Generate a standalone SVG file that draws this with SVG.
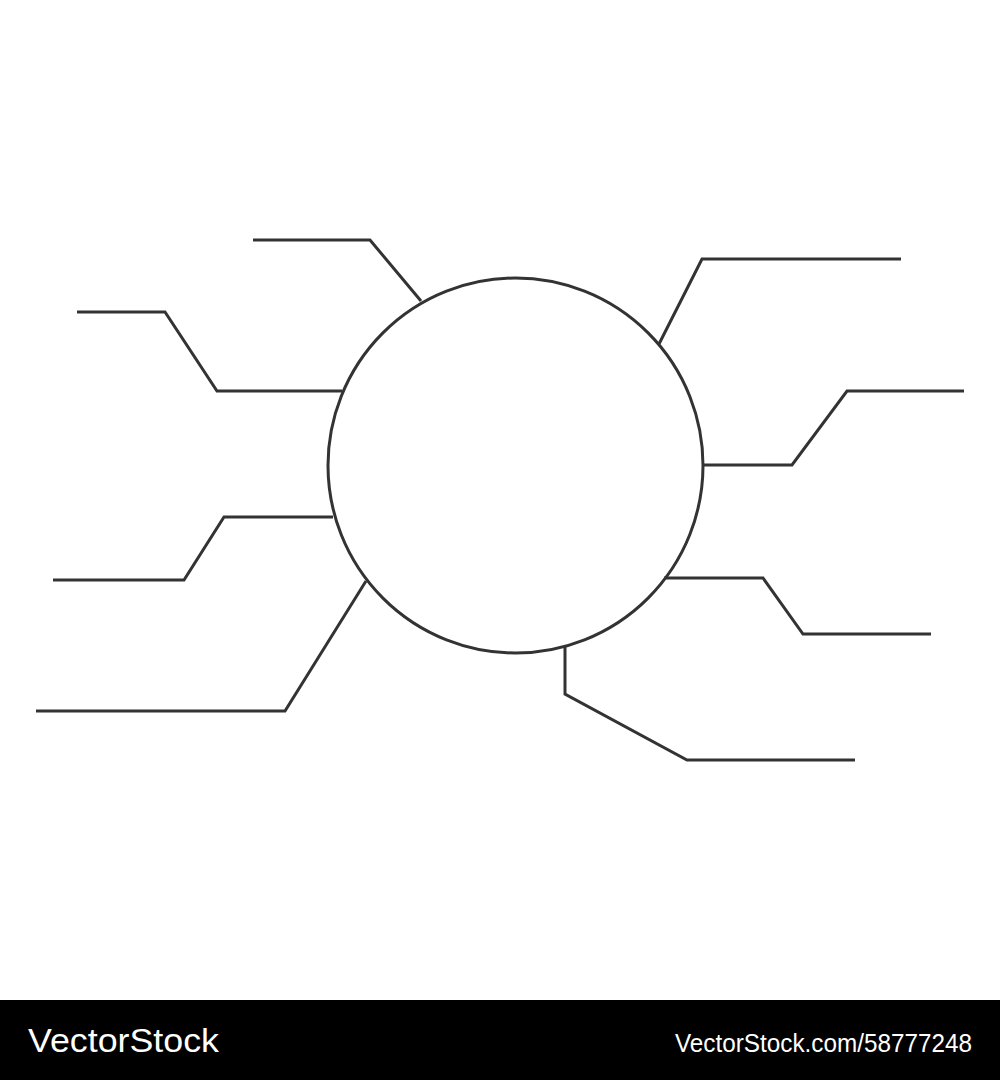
<svg xmlns="http://www.w3.org/2000/svg" width="1000" height="1080" viewBox="0 0 1000 1080">
<style>
.ln{fill:none;stroke:#333333;stroke-width:3;stroke-linejoin:miter;stroke-linecap:butt}
.ft{fill:#ffffff;font-family:"Liberation Sans",Arial,sans-serif}
</style>
<rect x="0" y="0" width="1000" height="1080" fill="#ffffff"/>
<g id="center">
<circle cx="515.5" cy="465.5" r="187.5" fill="#ffffff" stroke="#333333" stroke-width="3"/>
</g>
<g id="connectors">
<polyline class="ln" points="253,240 370,240 421,301"/>
<polyline class="ln" points="77,312 165,312 217,391 342,391"/>
<polyline class="ln" points="53,580 184,580 224,517 333,517"/>
<polyline class="ln" points="36,711 285,711 366,581"/>
<polyline class="ln" points="659,344 702,259 901,259"/>
<polyline class="ln" points="703,465 792,465 847,391 964,391"/>
<polyline class="ln" points="664,578 763,578 803,634 931,634"/>
<polyline class="ln" points="565,647 565,694 687,760 855,760"/>
</g>
<g id="footer">
<rect x="0" y="1000" width="1000" height="80" fill="#000000"/>
<text class="ft" x="28" y="1052" font-size="33" textLength="191" lengthAdjust="spacingAndGlyphs">VectorStock</text>
<text class="ft" x="675" y="1052" font-size="25" textLength="297" lengthAdjust="spacingAndGlyphs">VectorStock.com/58777248</text>
</g>
</svg>
